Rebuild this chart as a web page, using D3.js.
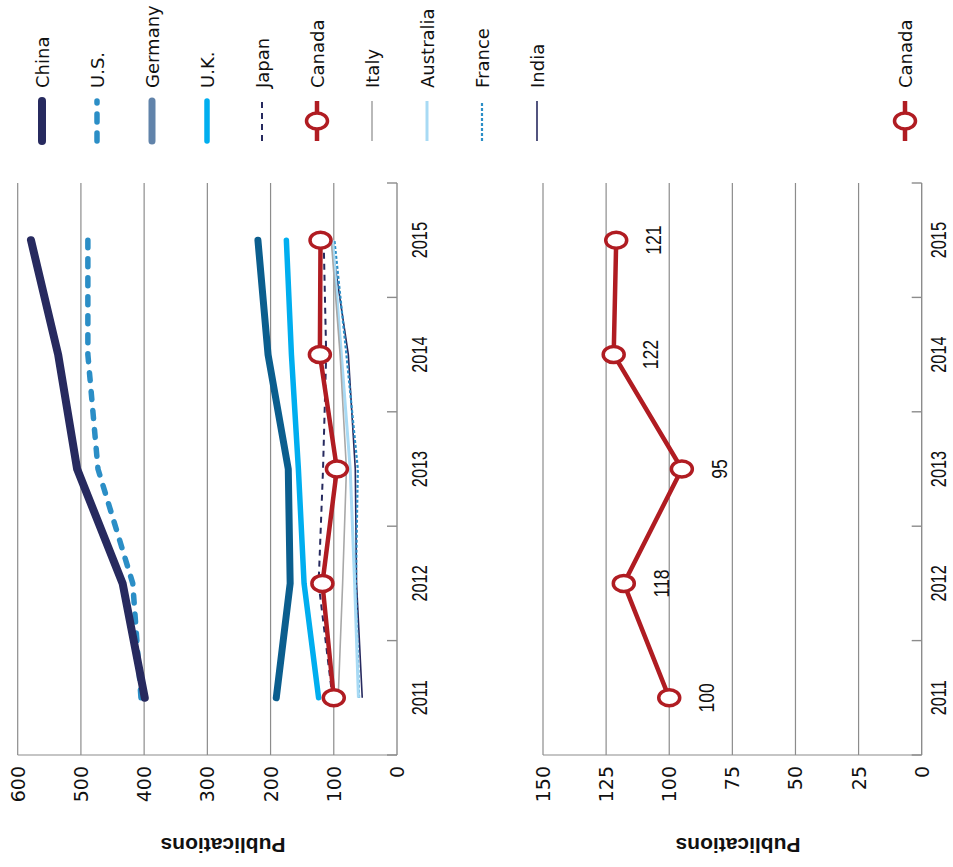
<!DOCTYPE html>
<html><head><meta charset="utf-8">
<script src="https://cdn.jsdelivr.net/npm/d3@7/dist/d3.min.js"></script>
<style>body{margin:0;background:#fff}svg{display:block}</style></head>
<body><svg id="c" width="953" height="867"></svg>
<script>
// ---- data ----
const years = ["2011","2012","2013","2014","2015"];
const countries = ["China","U.S.","Germany","U.K.","Japan","Canada","Italy","Australia","France","India"];
const china     = [399, 434, 506, 536, 579];
const us        = [405, 418, 473, 489, 489];
const germany   = [191, 169, 172, 204, 220];
const uk        = [124, 147, 156, 167, 175];
const japan     = [102, 124, 117, 112, 116];
const canada    = [100, 118, 95, 122, 121];
const italy     = [93, 86, 80, 90, 104];
const australia = [61, 67, 74, 88, 102];
const france    = [60, 65, 62, 80, 99];
const india     = [55, 64, 66, 77, 104];
const ticks1 = [0, 100, 200, 300, 400, 500, 600];
const ticks2 = [0, 25, 50, 75, 100, 125, 150];
const axisTitle = "Publications";

const values = {"China":china,"U.S.":us,"Germany":germany,"U.K.":uk,"Japan":japan,
  "Canada":canada,"Italy":italy,"Australia":australia,"France":france,"India":india};

// ---- styles ----
const style = {
  "China":    {c:"#272a5f", w:8,   cap:"round"},
  "U.S.":     {c:"#2b8ec6", w:5.5, cap:"round", dash:"8,11"},
  "Germany":  {c:"#0b5e8e", lc:"#6183aa", w:7, cap:"round"},
  "U.K.":     {c:"#00aeef", w:5.5, cap:"round"},
  "Japan":    {c:"#272a5f", w:2,   dash:"6,5"},
  "Canada":   {c:"#b01c22", w:4.5, marker:true},
  "Italy":    {c:"#a8a8a8", w:1.6},
  "Australia":{c:"#a8daf4", w:3},
  "France":   {c:"#2b8ec6", w:2.2, dash:"3,2"},
  "India":    {c:"#272a5f", w:1.6}
};
const drawOrder = ["India","France","Australia","Italy","Japan","U.K.","Germany","U.S.","China","Canada"];

const svg = d3.select("#c");
// chart is drawn in an upright frame (867 wide x 953 tall) and turned a quarter turn
const g = svg.append("g").attr("transform","matrix(0,-1,1,0,0,867)");

const x = d3.scaleBand().domain(years).range([112, 684]);
const cx = d => x(d) + x.bandwidth()/2;
const gridC = "#8c8c8c";

function panel(yScale, ticks, yearBase, titleY) {
  const p = g.append("g");
  const y0 = yScale(0);
  p.selectAll("line.grid").data(ticks.filter(t => t !== 0)).join("line")
    .attr("x1", 112).attr("x2", 684)
    .attr("y1", d => yScale(d)).attr("y2", d => yScale(d))
    .attr("stroke", gridC).attr("stroke-width", 1.2);
  p.append("line").attr("x1",112).attr("x2",112)
    .attr("y1", yScale(ticks[ticks.length-1])).attr("y2", y0)
    .attr("stroke", gridC).attr("stroke-width", 1.2);
  p.append("line").attr("x1",112).attr("x2",684).attr("y1",y0).attr("y2",y0)
    .attr("stroke", gridC).attr("stroke-width", 1.4);
  const bounds = years.map(d => x(d)).concat([x(years[years.length-1]) + x.bandwidth()]);
  p.selectAll("line.tk").data(bounds).join("line")
    .attr("x1", d => d).attr("x2", d => d).attr("y1", y0).attr("y2", y0 - 10)
    .attr("stroke", gridC).attr("stroke-width", 1.4);
  p.selectAll("text.vl").data(ticks).join("text")
    .attr("x", 101).attr("y", d => yScale(d))
    .attr("text-anchor","end").attr("dominant-baseline","central")
    .attr("font-family","DejaVu Sans").attr("font-size", 19).attr("fill","#111")
    .text(d => d);
  p.selectAll("text.yr").data(years).join("text")
    .attr("transform", d => `translate(${cx(d)},${yearBase}) scale(0.76,1)`)
    .attr("text-anchor","middle")
    .attr("font-family","Liberation Sans").attr("font-size", 21.5).attr("fill","#111")
    .text(d => d);
  p.append("text").attr("transform", `translate(22,${titleY}) rotate(-90)`)
    .attr("text-anchor","middle").attr("dominant-baseline","central")
    .attr("font-family","Liberation Sans").attr("font-weight","bold").attr("font-size", 21)
    .attr("fill","#111").text(axisTitle);
  return p;
}

function drawSeries(p, name, yScale) {
  const s = style[name];
  const data = years.map((yr, i) => ({yr, v: values[name][i]}));
  const line = d3.line().x(d => cx(d.yr)).y(d => yScale(d.v));
  p.append("path").datum(data).attr("d", line)
    .attr("fill","none").attr("stroke", s.c).attr("stroke-width", s.w)
    .attr("stroke-linecap", s.cap || "butt").attr("stroke-linejoin","round")
    .attr("stroke-dasharray", s.dash || null);
  if (s.marker) {
    p.selectAll(null).data(data).join("ellipse")
      .attr("cx", d => cx(d.yr)).attr("cy", d => yScale(d.v))
      .attr("rx", 8).attr("ry", 10.5)
      .attr("fill","#fff").attr("stroke", s.c).attr("stroke-width", 3.5);
  }
  return data;
}

function legendItem(name, pos) {
  const s = style[name];
  const lg = g.append("g");
  lg.append("line").attr("x1", 726).attr("x2", 766).attr("y1", pos).attr("y2", pos)
    .attr("stroke", s.lc || s.c).attr("stroke-width", s.w)
    .attr("stroke-linecap", s.cap || "butt").attr("stroke-dasharray", s.dash || null);
  if (s.marker) {
    lg.append("ellipse").attr("cx", 746).attr("cy", pos).attr("rx", 8).attr("ry", 10.5)
      .attr("fill","#fff").attr("stroke", s.c).attr("stroke-width", 3.5);
  }
  lg.append("text").attr("x", 779).attr("y", pos).attr("dominant-baseline","central")
    .attr("font-family","DejaVu Sans").attr("font-size", 18).attr("fill","#111").text(name);
}

const y1 = d3.scaleLinear().domain([0, 600]).range([397, 17.7]);
const p1 = panel(y1, ticks1, 427, 223);
drawOrder.forEach(n => drawSeries(p1, n, y1));
countries.forEach((n, i) => legendItem(n, 42 + 55 * i));

const y2 = d3.scaleLinear().domain([0, 150]).range([921.7, 543]);
const p2 = panel(y2, ticks2, 946, 738);
const cd = drawSeries(p2, "Canada", y2);
p2.selectAll("text.dl").data(cd).join("text")
  .attr("transform", d => `translate(${cx(d.yr)},${y2(d.v) + 37}) scale(0.8,1)`)
  .attr("text-anchor","middle").attr("dominant-baseline","central")
  .attr("font-family","Liberation Sans").attr("font-size", 22).attr("fill","#111")
  .text(d => d.v);
legendItem("Canada", 905);
</script></body></html>
